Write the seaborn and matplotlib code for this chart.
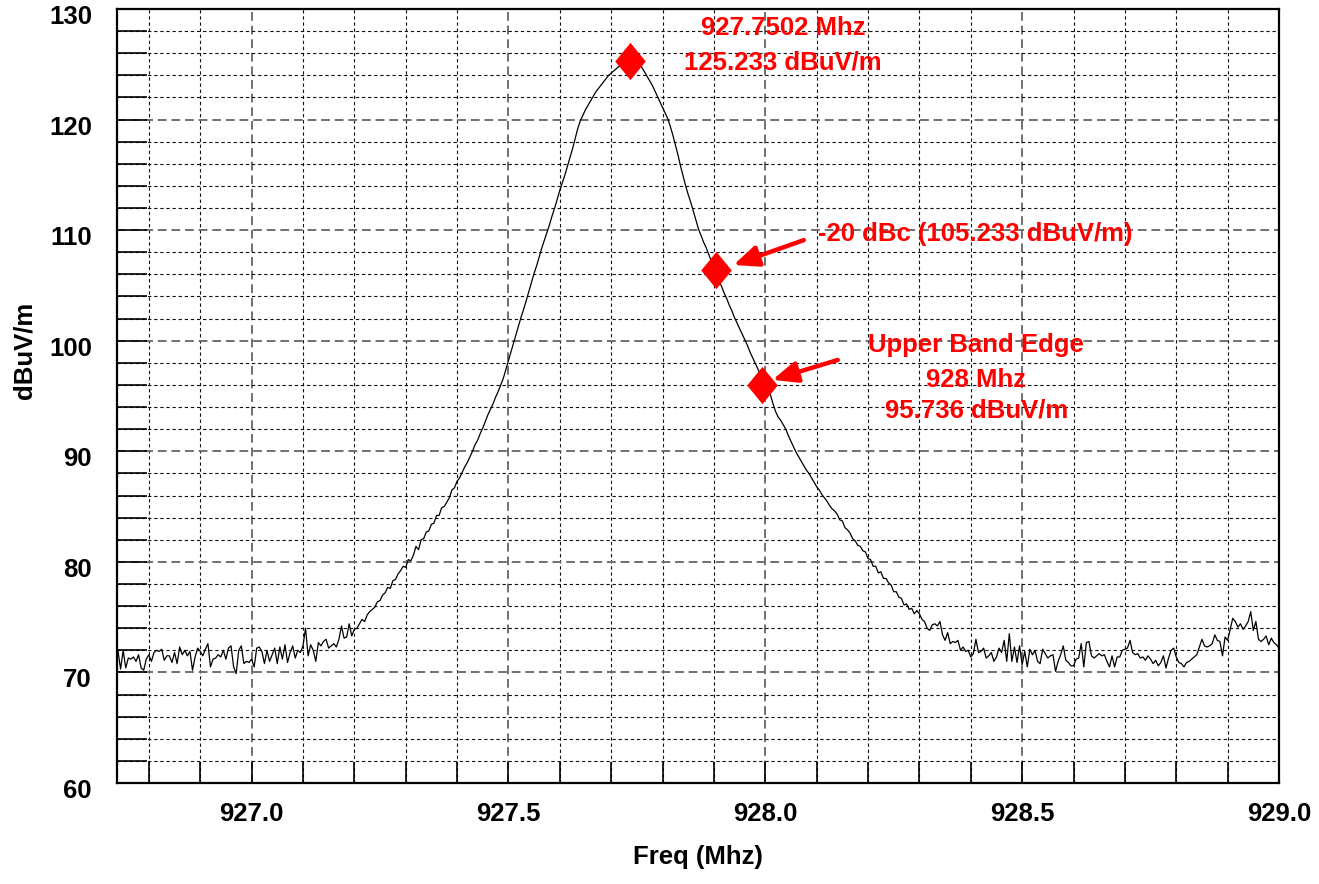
import numpy as np
import pandas as pd
import matplotlib.pyplot as plt
import matplotlib.ticker as mticker
import matplotlib.transforms as mtransforms
from matplotlib.path import Path
import seaborn as sns

# spectrum sweep, 5 kHz steps starting at 926.740 MHz (one row = 0.1 MHz)
sweep_start = 926.74
sweep_step = 0.005
level = [
    71.9, 70.3, 72.0, 70.4, 71.3, 71.2, 71.4, 71.0, 71.6, 70.4, 70.2, 71.2, 71.6, 71.0, 71.8, 72.0, 71.9, 72.1, 71.1, 71.5,  # 926.74
    71.5, 70.9, 71.8, 70.8, 72.3, 71.6, 72.0, 71.5, 71.9, 70.2, 71.4, 72.2, 71.9, 71.5, 72.1, 72.6, 70.5, 71.2, 71.3, 71.6,  # 926.84
    71.4, 72.0, 71.2, 72.2, 72.4, 70.5, 69.9, 72.0, 72.4, 70.8, 71.0, 70.9, 71.2, 70.5, 72.2, 72.3, 71.9, 70.8, 72.0, 71.0,  # 926.94
    71.6, 72.2, 70.8, 72.3, 71.2, 72.5, 70.9, 71.8, 72.4, 71.3, 72.0, 71.8, 72.4, 74.0, 71.5, 72.5, 72.0, 71.0, 72.7, 72.4,  # 927.04
    72.8, 73.0, 72.2, 72.4, 72.6, 72.3, 73.0, 74.2, 73.1, 73.2, 74.4, 73.3, 73.9, 74.0, 74.4, 74.8, 74.6, 75.2, 75.5, 75.7,  # 927.14
    75.9, 76.4, 76.5, 77.0, 77.2, 77.7, 77.6, 78.3, 78.4, 78.9, 79.2, 79.6, 79.5, 80.2, 80.1, 80.6, 81.4, 81.1, 82.0, 82.1,  # 927.24
    82.7, 82.8, 83.4, 83.5, 84.2, 84.2, 84.9, 85.0, 85.4, 85.8, 86.5, 86.7, 87.3, 87.6, 88.1, 88.6, 89.0, 89.5, 90.0, 90.6,  # 927.34
    91.0, 91.6, 92.1, 92.7, 93.3, 93.8, 94.3, 94.9, 95.4, 96.0, 96.6, 97.4, 98.2, 99.0, 99.8, 100.6, 101.4, 102.2, 102.9, 103.7,  # 927.44
    104.5, 105.3, 106.1, 106.8, 107.6, 108.4, 109.1, 109.8, 110.5, 111.3, 112.0, 112.8, 113.6, 114.3, 115.0, 115.8, 116.6, 117.4, 118.3, 119.2,  # 927.54
    119.9, 120.4, 120.9, 121.3, 121.7, 122.1, 122.5, 122.8, 123.1, 123.4, 123.7, 124.0, 124.2, 124.4, 124.6, 124.8, 124.9, 125.0, 125.1, 125.2,  # 927.64
    125.3, 125.3, 125.2, 125.0, 124.7, 124.3, 123.9, 123.5, 123.1, 122.6, 122.1, 121.6, 121.1, 120.6, 120.1, 119.4, 118.6, 117.7, 116.8, 115.8,  # 927.74
    114.9, 114.0, 113.2, 112.5, 111.7, 110.9, 110.1, 109.5, 108.9, 108.4, 107.8, 107.2, 106.6, 106.0, 105.4, 104.9, 104.3, 103.8, 103.2, 102.7,  # 927.84
    102.1, 101.6, 101.1, 100.6, 100.1, 99.6, 99.0, 98.5, 98.0, 97.5, 97.0, 96.5, 96.0, 95.6, 95.1, 94.3, 93.6, 93.1, 92.8, 92.4,  # 927.94
    92.0, 91.4, 90.9, 90.4, 89.9, 89.5, 89.1, 88.7, 88.3, 88.0, 87.6, 87.2, 86.8, 86.5, 86.1, 85.8, 85.5, 85.1, 84.8, 84.6,  # 928.04
    84.3, 83.8, 83.7, 83.1, 82.9, 82.6, 82.1, 81.9, 81.5, 81.4, 81.0, 80.9, 80.3, 80.2, 79.6, 79.6, 79.0, 79.1, 78.5, 78.5,  # 928.14
    78.1, 77.9, 77.3, 77.3, 76.8, 76.7, 76.1, 76.2, 75.7, 75.8, 75.3, 75.6, 75.3, 74.8, 74.6, 74.0, 73.8, 74.3, 74.4, 74.2,  # 928.24
    74.6, 73.4, 72.9, 73.6, 72.6, 72.8, 72.7, 72.9, 72.0, 72.3, 71.9, 72.0, 71.4, 71.7, 73.0, 71.8, 71.9, 72.2, 71.3, 71.5,  # 928.34
    71.8, 71.0, 71.4, 72.2, 71.8, 72.9, 71.0, 73.5, 71.0, 72.3, 70.9, 72.4, 70.7, 71.9, 70.5, 72.1, 71.6, 72.0, 71.0, 70.8,  # 928.44
    72.1, 71.7, 71.3, 71.5, 71.6, 70.1, 71.0, 71.6, 72.4, 71.1, 70.9, 70.6, 70.6, 71.2, 71.3, 72.6, 70.5, 72.7, 72.8, 71.5,  # 928.54
    71.3, 71.5, 71.7, 71.5, 71.6, 71.0, 70.5, 71.5, 70.5, 71.4, 71.4, 72.0, 72.1, 72.2, 72.9, 71.8, 71.6, 71.7, 71.3, 71.4,  # 928.64
    71.1, 71.5, 71.2, 70.8, 71.1, 70.6, 70.9, 71.5, 70.4, 71.3, 72.0, 72.2, 71.4, 70.9, 70.8, 70.5, 70.9, 71.0, 71.2, 71.4,  # 928.74
    71.6, 72.3, 73.0, 72.4, 72.3, 72.4, 72.6, 73.4, 72.9, 72.8, 71.5, 73.2, 72.9, 73.9, 74.9, 74.6, 74.1, 74.4, 73.9, 74.2,  # 928.84
    74.6, 75.5, 73.8, 74.6, 73.0, 72.8, 73.0, 73.3, 72.5, 73.1, 72.7, 72.5, 72.2,  # 928.94
]

# markers (peak, -20 dBc point, upper band edge)
marker_freq = [927.737, 927.905, 927.994]
marker_level = [125.3, 106.4, 96.0]

freq = sweep_start + sweep_step * np.arange(len(level))
df = pd.DataFrame({'freq': freq, 'level': level})
mk = pd.DataFrame({'freq': marker_freq, 'level': marker_level})

sns.set_theme(style='white')
plt.rcParams['font.family'] = ['Liberation Sans', 'DejaVu Sans']
plt.rcParams['font.weight'] = 'bold'
plt.rcParams['text.color'] = 'black'
plt.rcParams['axes.labelcolor'] = 'black'
plt.rcParams['xtick.color'] = 'black'
plt.rcParams['ytick.color'] = 'black'

fig = plt.figure(figsize=(13.19, 8.84), dpi=100)
ax = fig.add_axes([117 / 1319, 1 - 783 / 884, 1162 / 1319, 774 / 884])

sns.lineplot(data=df, x='freq', y='level', color='black', lw=0.9, ax=ax, zorder=3)

diamond = Path([(0, 1), (0.82, 0), (0, -1), (-0.82, 0), (0, 1)],
               [Path.MOVETO, Path.LINETO, Path.LINETO, Path.LINETO, Path.CLOSEPOLY])
sns.scatterplot(data=mk, x='freq', y='level', marker=diamond, s=720, color='red',
                linewidth=0, ax=ax, zorder=5)

ax.set_xlim(926.738, 929.0)
ax.set_ylim(60, 130)
ax.xaxis.set_major_locator(mticker.MultipleLocator(0.5))
ax.xaxis.set_minor_locator(mticker.MultipleLocator(0.1))
ax.xaxis.set_major_formatter(mticker.FormatStrFormatter('%.1f'))
ax.yaxis.set_major_locator(mticker.MultipleLocator(10))
ax.yaxis.set_minor_locator(mticker.MultipleLocator(2))

ax.grid(which='minor', color='#111111', lw=0.8, linestyle=(0, (3, 2.5)))
ax.grid(which='major', color='#707070', lw=1.4, linestyle=(0, (4.5, 2.5)))
ax.set_axisbelow(True)

ax.tick_params(axis='x', which='both', direction='in', length=15, width=1.2,
               color='black', labelsize=18.5, pad=13.5, bottom=True, top=False)
ax.tick_params(axis='y', which='both', direction='in', length=21.5, width=1.2,
               color='black', labelsize=18.5, pad=18, left=True, right=False)
for lab in ax.get_xticklabels() + ax.get_yticklabels():
    lab.set_fontweight('bold')
    lab.set_color('black')
off = mtransforms.ScaledTranslation(0, -4 / 72, fig.dpi_scale_trans)
for lab in ax.get_yticklabels():
    lab.set_transform(lab.get_transform() + off)

for s in ax.spines.values():
    s.set_color('black')
    s.set_linewidth(1.6)

ax.set_xlabel('Freq (Mhz)', fontsize=18.5, fontweight='bold', color='black')
ax.set_ylabel('dBuV/m', fontsize=18.5, fontweight='bold', color='black')
ax.xaxis.set_label_coords(0.5, -0.080)
ax.yaxis.set_label_coords(-0.069, 0.559)

red = '#ff0000'
txt = dict(color=red, fontsize=18.5, fontweight='bold', ha='center', va='center', zorder=6)
ax.text(928.034, 128.28, '927.7502 Mhz', **txt)
ax.text(928.034, 125.2, '125.233 dBuV/m', **txt)
ax.text(928.102, 109.66, '-20 dBc (105.233 dBuV/m)', color=red, fontsize=18.5,
        fontweight='bold', ha='left', va='center', zorder=6)
ax.text(928.411, 99.62, 'Upper Band Edge', **txt)
ax.text(928.411, 96.46, '928 Mhz', **txt)
ax.text(928.411, 93.65, '95.736 dBuV/m', **txt)

arrow = dict(arrowstyle='-|>,head_length=0.75,head_width=0.32', lw=3.2, color=red,
             shrinkA=0, shrinkB=0, mutation_scale=20)
ax.annotate('', xy=(927.938, 106.85), xytext=(928.075, 109.1), arrowprops=arrow, zorder=6)
ax.annotate('', xy=(928.014, 96.46), xytext=(928.141, 98.26), arrowprops=arrow, zorder=6)

fig.savefig('out.png', dpi=100)
